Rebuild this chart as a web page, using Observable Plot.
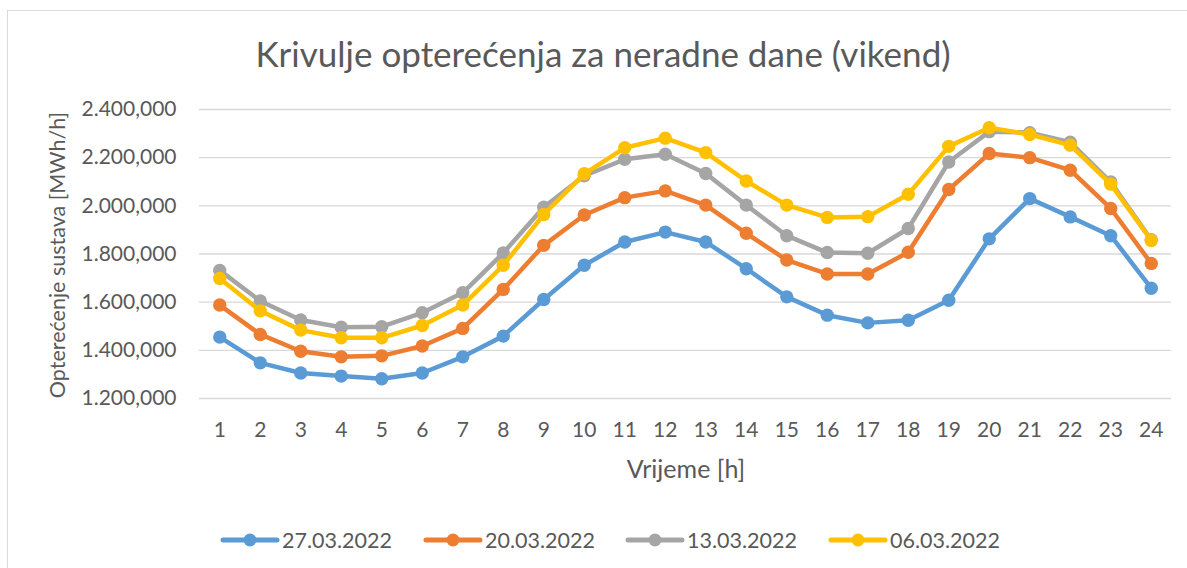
<!DOCTYPE html>
<html>
<head>
<meta charset="utf-8">
<script src="https://cdn.jsdelivr.net/npm/d3@7"></script>
<script src="https://cdn.jsdelivr.net/npm/@observablehq/plot@0.6"></script>
<style>
  html, body { margin: 0; padding: 0; background: #fff; }
  #wrap { position: relative; width: 1187px; height: 568px; overflow: hidden; font-family: Lato, "Open Sans", sans-serif; color: #595959; }
  #frame { position: absolute; left: 7px; top: 10px; width: 1300px; height: 700px; border: 1px solid #d9d9d9; box-sizing: border-box; }
  #title { position: absolute; top: 36px; left: 0; width: 1206px; text-align: center; font-size: 35px; line-height: 1; white-space: nowrap; }
  #chart { position: absolute; left: 0; top: 80px; }
  #ytitle { position: absolute; left: 58px; top: 255px; transform: translate(-50%, -50%) rotate(-90deg); white-space: nowrap; font-size: 21.5px; line-height: 1; }
  #xtitle { position: absolute; left: 686px; top: 468px; transform: translate(-50%, -50%); white-space: nowrap; font-size: 25px; line-height: 1; }
  .item { position: absolute; top: 528px; display: flex; align-items: center; font-size: 21.5px; line-height: 24px; white-space: nowrap; }
  .item svg { display: block; margin-right: 2px; }
</style>
</head>
<body>
<div id="wrap">
  <div id="frame"></div>
  <div id="title">Krivulje opterećenja za neradne dane (vikend)</div>
  <div id="chart"></div>
  <div id="ytitle">Opterećenje sustava [MWh/h]</div>
  <div id="xtitle">Vrijeme [h]</div>
  <div id="legend"></div>
</div>
<script>
// Hours (categories)
const hours = [1,2,3,4,5,6,7,8,9,10,11,12,13,14,15,16,17,18,19,20,21,22,23,24];

// Y tick values
const yTicks = [1200, 1400, 1600, 1800, 2000, 2200, 2400];

// Series names and colors
const seriesNames = ["27.03.2022", "20.03.2022", "13.03.2022", "06.03.2022"];
const seriesColors = ["#5B9BD5", "#ED7D31", "#A5A5A5", "#FFC000"];

// Series values (MWh/h)
const v27 = [1455,1348,1306,1293,1282,1306,1373,1459,1611,1753,1850,1891,1850,1739,1622,1546,1514,1525,1608,1863,2030,1954,1876,1658];
const v20 = [1588,1466,1396,1373,1377,1418,1491,1653,1836,1962,2034,2062,2003,1886,1775,1717,1717,1807,2068,2217,2200,2148,1989,1761];
const v13 = [1732,1605,1526,1496,1498,1556,1639,1804,1994,2125,2193,2214,2134,2003,1876,1806,1803,1906,2182,2308,2304,2264,2099,1859];
const v06 = [1698,1564,1484,1452,1452,1503,1588,1753,1964,2133,2241,2281,2221,2103,2003,1952,1955,2048,2247,2324,2296,2252,2090,1856];

const seriesValues = [v27, v20, v13, v06];

const locale = d3.formatLocale({decimal: ",", thousands: ".", grouping: [3], currency: ["", ""]});
const fmt = locale.format(",.3f");

const tables = seriesValues.map((vals, si) =>
  vals.map((v, i) => ({hour: hours[i], value: v, series: seriesNames[si]}))
);

const marks = [
  Plot.ruleY(yTicks, {stroke: "#d9d9d9", strokeWidth: 1.3})
];
tables.forEach((t, si) => {
  marks.push(Plot.line(t, {x: "hour", y: "value", stroke: seriesColors[si], strokeWidth: 4.5, strokeLinejoin: "round", strokeLinecap: "round"}));
  marks.push(Plot.dot(t, {x: "hour", y: "value", r: 6.7, fill: seriesColors[si], stroke: "none"}));
});

const chart = Plot.plot({
  width: 1187,
  height: 370,
  marginLeft: 199,
  marginRight: 16,
  marginTop: 29,
  marginBottom: 52,
  style: {fontFamily: "Lato, 'Open Sans', sans-serif", fontSize: "21px", color: "#595959", background: "transparent", overflow: "visible"},
  x: {domain: [0.5, 24.5], ticks: hours, tickFormat: d => String(d), tickSize: 0, tickPadding: 24, label: null},
  y: {domain: [1200, 2400], ticks: yTicks, tickFormat: fmt, tickSize: 0, tickPadding: 23, label: null},
  marks
});
document.getElementById("chart").appendChild(chart);

// Legend
const legend = document.getElementById("legend");
const legendLeft = [220, 423, 625, 828];
seriesNames.forEach((name, i) => {
  const item = document.createElement("div");
  item.className = "item";
  item.style.left = legendLeft[i] + "px";
  const ns = "http://www.w3.org/2000/svg";
  const svg = document.createElementNS(ns, "svg");
  svg.setAttribute("width", 60);
  svg.setAttribute("height", 24);
  const ln = document.createElementNS(ns, "line");
  ln.setAttribute("x1", 3); ln.setAttribute("x2", 57);
  ln.setAttribute("y1", 12); ln.setAttribute("y2", 12);
  ln.setAttribute("stroke", seriesColors[i]); ln.setAttribute("stroke-width", 5);
  ln.setAttribute("stroke-linecap", "round");
  const c = document.createElementNS(ns, "circle");
  c.setAttribute("cx", 30); c.setAttribute("cy", 12); c.setAttribute("r", 6.5);
  c.setAttribute("fill", seriesColors[i]);
  svg.appendChild(ln); svg.appendChild(c);
  const span = document.createElement("span");
  span.textContent = name;
  item.appendChild(svg); item.appendChild(span);
  legend.appendChild(item);
});
</script>
</body>
</html>
